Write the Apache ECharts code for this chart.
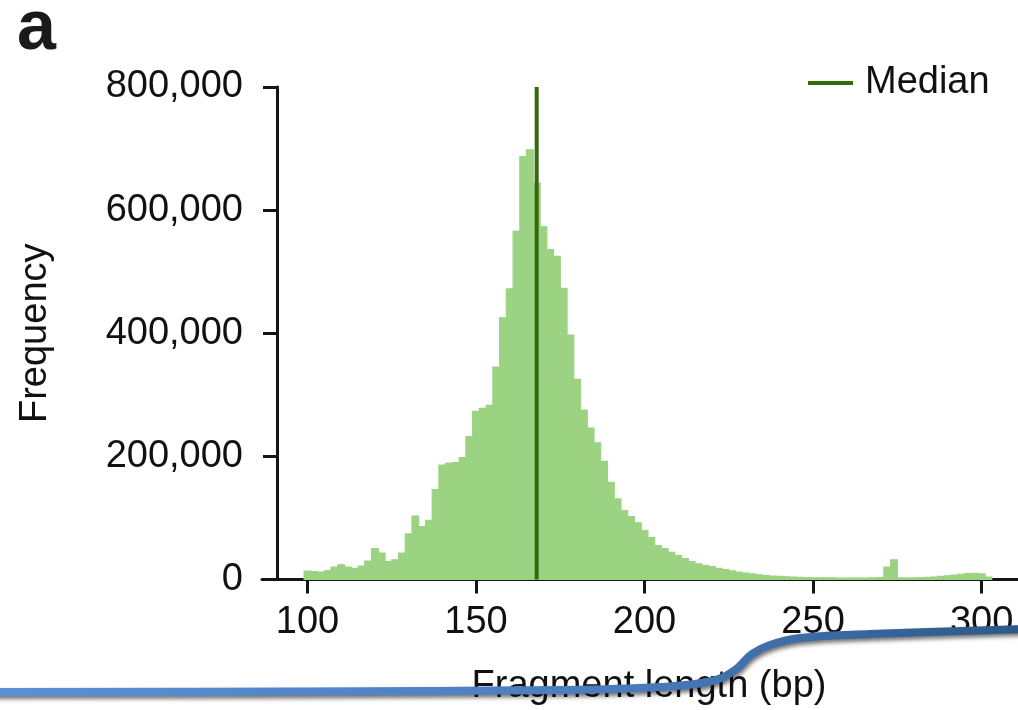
<!DOCTYPE html>
<html>
<head>
<meta charset="utf-8">
<script src="https://cdn.jsdelivr.net/npm/echarts@6/dist/echarts.min.js"></script>
<style>
html,body{margin:0;padding:0;background:#fff;}
#chart{width:1018px;height:710px;}
</style>
</head>
<body>
<div id="chart"></div>
<script>
// ---- data ----
const binCenters = [100,102,104,106,108,110,112,114,116,118,120,122,124,126,128,130,132,134,136,138,
  140,142,144,146,148,150,152,154,156,158,160,162,164,166,168,170,172,174,176,178,
  180,182,184,186,188,190,192,194,196,198,200,202,204,206,208,210,212,214,216,218,
  220,222,224,226,228,230,232,234,236,238,240,242,244,246,248,250,252,254,256,258,
  260,262,264,266,268,270,272,274,276,278,280,282,284,286,288,290,292,294,296,298,
  300,302];
const counts = [13500,13000,12000,14600,20000,24000,20000,18000,21700,30000,
  50000,43000,29000,32000,43000,74000,103000,86000,96000,146000,
  186000,189000,190000,198000,232000,273000,278000,283000,345000,425000,
  472000,566000,687000,698000,644000,573000,536000,525000,473000,397000,
  325000,275000,246000,222000,192000,158000,131000,112000,102000,92000,
  80000,68000,55000,50000,44000,39000,34000,29000,25500,23000,
  21000,18000,16000,14000,12000,10500,9000,7500,6500,5500,
  5000,4500,4000,3500,3000,2800,2600,2500,2500,2400,
  2400,2300,2300,2400,2500,3000,20000,32000,2500,2200,
  2500,3000,3500,4000,5000,6000,7000,8500,9500,10000,
  9000,4000];
const binWidth = 2;
const medianValue = 168;
const xTickValues = [100,150,200,250,300];
const yTickValues = [0,200000,400000,600000,800000];
const seriesNames = ['Median'];
const xTitle = 'Fragment length (bp)';
const yTitle = 'Frequency';
const panelLabel = 'a';

// ---- styles ----
const FONT = "'Liberation Sans', Arial, Helvetica, sans-serif";
const BAR_COLOR = '#9bd383';
const MEDIAN_COLOR = '#356a0c';
const AXIS_COLOR = '#151515';

const chart = echarts.init(document.getElementById('chart'), null, {renderer: 'canvas'});

const histData = binCenters.map((c, i) => [c, counts[i]]);

function renderBar(params, api) {
  const c = api.value(0), v = api.value(1);
  const p0 = api.coord([c - binWidth / 2, v]);
  const p1 = api.coord([c + binWidth / 2, 0]);
  return {
    type: 'rect',
    shape: {x: p0[0], y: p0[1], width: p1[0] - p0[0], height: p1[1] - p0[1]},
    style: {fill: BAR_COLOR, stroke: BAR_COLOR, lineWidth: 1.2}
  };
}

const option = {
  backgroundColor: '#ffffff',
  animation: false,
  textStyle: {fontFamily: FONT},
  grid: {left: 262, right: 0, top: 87, bottom: 130.5, containLabel: false},
  legend: {
    data: [{name: seriesNames[0], icon: 'rect'}],
    left: 803, top: 59,
    itemWidth: 45, itemHeight: 4,
    itemStyle: {color: MEDIAN_COLOR},
    textStyle: {fontSize: 38, color: '#111', fontFamily: FONT, padding: [0, 0, 0, 7]}
  },
  xAxis: {
    type: 'value',
    min: 86.5, max: 310.8,
    axisLine: {show: true, onZero: false, lineStyle: {color: AXIS_COLOR, width: 3}},
    axisTick: {show: true, customValues: xTickValues, length: 14, lineStyle: {color: AXIS_COLOR, width: 3}},
    axisLabel: {show: true, customValues: xTickValues, fontSize: 38, color: '#111', margin: 24, fontFamily: FONT},
    splitLine: {show: false}
  },
  yAxis: {
    type: 'value',
    min: yTickValues[0], max: yTickValues[yTickValues.length - 1], interval: 200000,
    offset: -15,
    name: yTitle, nameLocation: 'middle', nameRotate: 90, nameGap: 222,
    nameTextStyle: {fontSize: 38, color: '#111', fontFamily: FONT},
    axisLine: {show: true, onZero: false, lineStyle: {color: AXIS_COLOR, width: 3}},
    axisTick: {show: true, length: 14, lineStyle: {color: AXIS_COLOR, width: 3}},
    axisLabel: {show: true, fontSize: 38, color: '#111', margin: 34, fontFamily: FONT,
      formatter: v => v.toLocaleString('en-US')},
    splitLine: {show: false}
  },
  series: [
    {
      type: 'custom',
      name: 'Frequency',
      renderItem: renderBar,
      data: histData,
      encode: {x: 0, y: 1},
      z: 2
    },
    {
      type: 'line',
      name: seriesNames[0],
      data: [[medianValue, yTickValues[0]], [medianValue, yTickValues[yTickValues.length - 1]]],
      symbol: 'none',
      lineStyle: {color: MEDIAN_COLOR, width: 4},
      itemStyle: {color: MEDIAN_COLOR},
      z: 3
    }
  ],
  graphic: [
    {
      type: 'text', x: 17, y: 30, z: 10,
      style: {text: panelLabel, font: "bold 70px " + FONT, fill: '#1a1a1a', verticalAlign: 'middle'}
    },
    {
      type: 'text', x: 649, y: 687, z: 10,
      style: {text: xTitle, font: "38px " + FONT, fill: '#111', align: 'center', verticalAlign: 'middle'}
    },
    {
      type: 'polyline', z: 20,
      shape: {
        points: [[-5, 692], [300, 691.5], [560, 690], [660, 687], [712, 681], [735, 670], [752, 654], [770, 645], [800, 638], [870, 634], [1025, 629]],
        smooth: 0.4
      },
      style: {
        fill: null,
        stroke: new echarts.graphic.LinearGradient(0, 0, 1, 0, [
          {offset: 0, color: '#5b90d6'}, {offset: 0.6, color: '#4a7cbd'}, {offset: 1, color: '#2c5788'}
        ]),
        lineWidth: 8,
        lineCap: 'round',
        lineJoin: 'round',
        shadowColor: 'rgba(0,0,0,0.55)', shadowBlur: 4, shadowOffsetX: 1, shadowOffsetY: 3
      }
    }
  ]
};
chart.setOption(option);
</script>
</body>
</html>
